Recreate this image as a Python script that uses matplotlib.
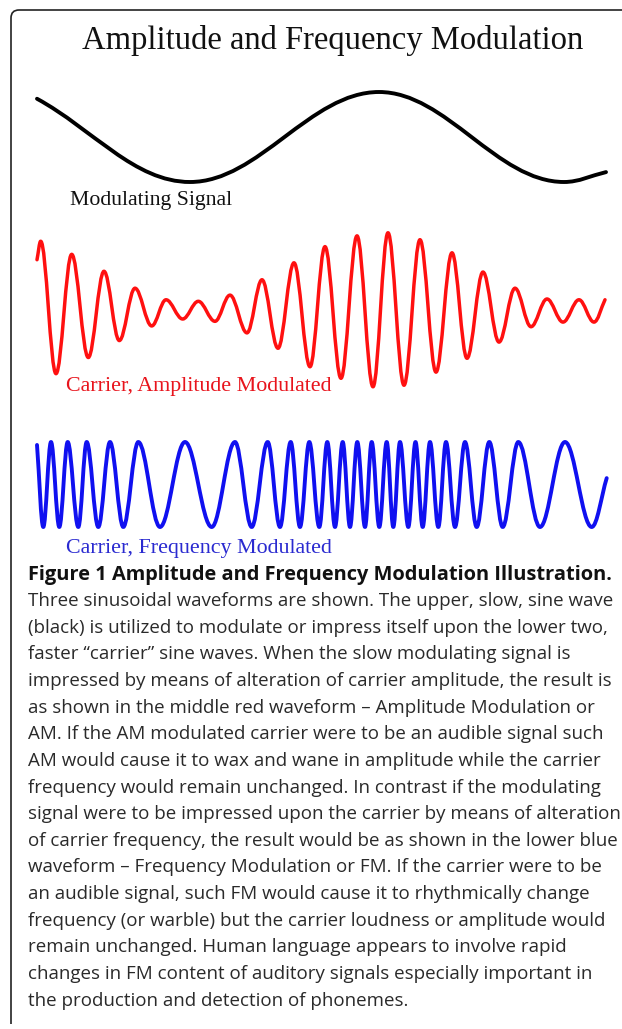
import numpy as np
import matplotlib
matplotlib.use("Agg")
import matplotlib.pyplot as plt
from matplotlib.path import Path
from matplotlib.patches import PathPatch

W, H = 622, 1029

# Extrema: time (px from left end of the waves), value (-1..1)
mod_t = [0, 153, 342, 527, 569]
mod_v = [0.85, -1.0, 1.0, -1.0, -0.78]

am_t = [0, 3.7, 19, 34.7, 51.3, 67, 82.3, 98, 114.7, 129, 145.7, 161.3, 178,
        193, 210, 225, 241, 257, 273, 288, 304, 320, 336, 351, 367, 383, 399,
        415, 430, 446, 462, 478, 494, 510, 526, 542, 557, 568]
am_v = [0.64, 0.88, -0.84, 0.71, -0.63, 0.49, -0.41, 0.27, -0.22, 0.12, -0.13, 0.10, -0.16,
        0.18, -0.31, 0.38, -0.51, 0.60, -0.75, 0.81, -0.90, 0.95, -1.01, 0.99, -0.99, 0.90, -0.82,
        0.73, -0.64, 0.48, -0.43, 0.27, -0.23, 0.13, -0.17, 0.12, -0.17, 0.12]

fm_t = [0, 6.3, 14, 22.3, 30.7, 41.3, 49.7, 61.3, 73, 86.3, 101.3, 123, 148, 174.7,
        198, 214.7, 230.7, 243, 253.7, 263, 272.3, 282.3, 290.3, 298, 305.7, 313,
        320.3, 328, 334.7, 342.3, 349.7, 356.3, 363, 371.3, 378.5, 385.7, 393, 401.3,
        409, 418, 428, 439.7, 452.3, 465.7, 481.3, 503, 528, 554.7, 569.7]
fm_v = [0.93, -1, 1, -1, 1, -1, 1, -1, 1, -1, 1, -1, 1, -1,
        1, -1, 1, -1, 1, -1, 1, -1, 1, -1, 1, -1,
        1, -1, 1, -1, 1, -1, 1, -1, 1, -1, 1, -1,
        1, -1, 1, -1, 1, -1, 1, -1, 1, -1, 0.15]

caption_title = "Figure 1 Amplitude and Frequency Modulation Illustration."
caption_lines = [
    "Three sinusoidal waveforms are shown. The upper, slow, sine wave",
    "(black) is utilized to modulate or impress itself upon the lower two,",
    "faster \u201ccarrier\u201d sine waves. When the slow modulating signal is",
    "impressed by means of alteration of carrier amplitude, the result is",
    "as shown in the middle red waveform \u2013 Amplitude Modulation or",
    "AM. If the AM modulated carrier were to be an audible signal such",
    "AM would cause it to wax and wane in amplitude while the carrier",
    "frequency would remain unchanged. In contrast if the modulating",
    "signal were to be impressed upon the carrier by means of alteration",
    "of carrier frequency, the result would be as shown in the lower blue",
    "waveform \u2013 Frequency Modulation or FM. If the carrier were to be",
    "an audible signal, such FM would cause it to rhythmically change",
    "frequency (or warble) but the carrier loudness or amplitude would",
    "remain unchanged. Human language appears to involve rapid",
    "changes in FM content of auditory signals especially important in",
    "the production and detection of phonemes.",
]


def wave_path(t, v, a=0.3634):
    # cubic bezier between successive extrema (half sine shape)
    verts = [(t[0], v[0])]
    codes = [Path.MOVETO]
    n = len(t)
    for i in range(n - 1):
        t0, v0, t1, v1 = t[i], v[i], t[i + 1], v[i + 1]
        d = t1 - t0
        if i == 0:
            c1 = (t0 + a * d, v0 + a * (v1 - v0))
        else:
            c1 = (t0 + a * d, v0)
        if i == n - 2:
            c2 = (t1 - a * d, v1 - a * (v1 - v0))
        else:
            c2 = (t1 - a * d, v1)
        verts += [c1, c2, (t1, v1)]
        codes += [Path.CURVE4] * 3
    return Path(verts, codes)


def px_axes(fig, x0, y0, x1, y1):
    ax = fig.add_axes([x0 / W, 1 - y1 / H, (x1 - x0) / W, (y1 - y0) / H])
    ax.set_axis_off()
    ax.patch.set_alpha(0)
    return ax


fig = plt.figure(figsize=(W / 100, H / 100), dpi=100)
fig.patch.set_facecolor("white")

bg = fig.add_axes([0, 0, 1, 1])
bg.set_xlim(0, W)
bg.set_ylim(H, 0)
bg.set_axis_off()

# frame with rounded corner
r = 8
frame = Path([(W + 5, 10), (11 + r, 10), (11, 10), (11, 10 + r), (11, 1024)],
             [Path.MOVETO, Path.LINETO, Path.CURVE3, Path.CURVE3, Path.LINETO])
bg.add_patch(PathPatch(frame, fill=False, edgecolor="#222222", lw=1.2))

serif = "Liberation Serif"
bg.text(333, 40, "Amplitude and Frequency Modulation", family=serif, fontsize=23.5,
        ha="center", va="center", color="#111111")
bg.text(70, 200, "Modulating Signal", family=serif, fontsize=15.7,
        ha="left", va="center", color="#111111")
bg.text(66, 386, "Carrier, Amplitude Modulated", family=serif, fontsize=15.8,
        ha="left", va="center", color="#e8141c")
bg.text(66, 548, "Carrier, Frequency Modulated", family=serif, fontsize=15.8,
        ha="left", va="center", color="#2a2ad0")

bg.text(28, 575, caption_title, family="Open Sans", fontweight="bold", fontsize=14.4,
        ha="left", va="center", color="#111111")
for i, line in enumerate(caption_lines):
    bg.text(28, 601 + 26.65 * i, line, family="Open Sans", fontsize=13.5,
            ha="left", va="center", color="#2a2a2a")

# waves
ax1 = px_axes(fig, 37, 92, 606, 182)
ax2 = px_axes(fig, 37, 232, 606, 386)
ax3 = px_axes(fig, 37, 442, 606, 527)
for ax, t, v, col, lw in [(ax1, mod_t, mod_v, "black", 2.8),
                          (ax2, am_t, am_v, "#ff1010", 2.5),
                          (ax3, fm_t, fm_v, "#1010f0", 2.8)]:
    ax.set_xlim(0, 569)
    ax.set_ylim(-1, 1)
    ax.add_patch(PathPatch(wave_path(t, v), fill=False, edgecolor=col, lw=lw,
                           capstyle="round", joinstyle="round", clip_on=False))

fig.savefig("out.png", dpi=100)
